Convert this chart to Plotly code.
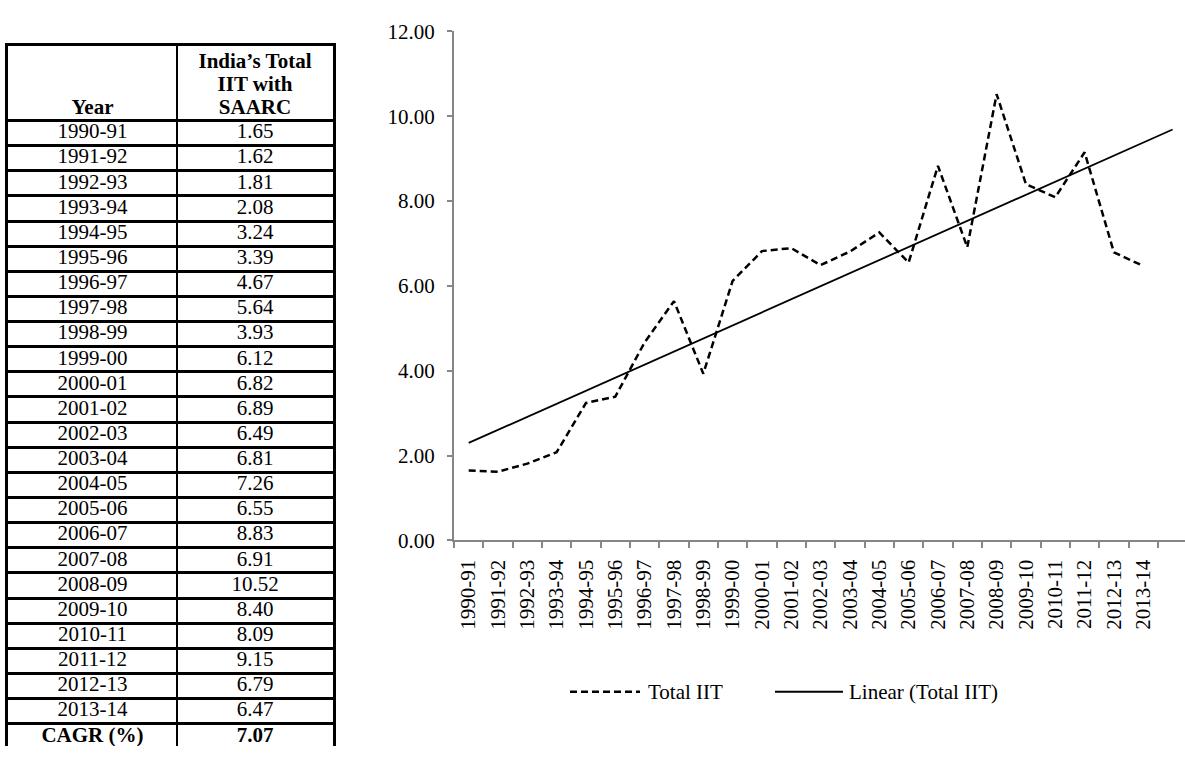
import numpy as np
import plotly.graph_objects as go

# ---- data -------------------------------------------------------------
years = ["1990-91", "1991-92", "1992-93", "1993-94", "1994-95", "1995-96",
         "1996-97", "1997-98", "1998-99", "1999-00", "2000-01", "2001-02",
         "2002-03", "2003-04", "2004-05", "2005-06", "2006-07", "2007-08",
         "2008-09", "2009-10", "2010-11", "2011-12", "2012-13", "2013-14"]
total_iit = [1.65, 1.62, 1.81, 2.08, 3.24, 3.39, 4.67, 5.64, 3.93, 6.12,
             6.82, 6.89, 6.49, 6.81, 7.26, 6.55, 8.83, 6.91, 10.52, 8.40,
             8.09, 9.15, 6.79, 6.47]
cagr_pct = 7.07
header_year = "Year"
header_value_lines = ["India’s Total", "IIT with", "SAARC"]
summary_label = "CAGR (%)"
series_name = "Total IIT"
trend_name = f"Linear ({series_name})"
y_tick_values = [0, 2, 4, 6, 8, 10, 12]

# ---- geometry / style -------------------------------------------------
W, H = 1185, 758
FONT = "Liberation Serif"
FS = 21
AXIS_GREY = "#868686"
DASH = "7px,4px"

# chart area (pixels)
PLOT_LEFT, PLOT_TOP, PLOT_BOTTOM = 454, 20, 545.7
CAT_PX = 29.33

# table area (pixels)
TAB_LEFT, TAB_RIGHT, TAB_TOP = 8, 333, 35
COL1_W = 169
HEADER_PX, ROW_PX = 77, 25.96
HEADER_LINE_PX = 24

# legend placement (pixels)
LEG_Y = 702
LEG_ITEMS = [  # (sample start, sample end, text start)
    (570, 640, 646),
    (775, 843, 847),
]

# ---- chart traces -----------------------------------------------------
x_pos = np.arange(1, len(years) + 1)
slope, intercept = np.polyfit(x_pos, total_iit, 1)
trend_x = np.array([1, len(years) + 1])          # one period forward forecast
trend_y = intercept + slope * trend_x

series_line = dict(color="black", width=2.5, dash=DASH)
trend_line = dict(color="black", width=1.8)

fig = go.Figure()
fig.add_trace(go.Scatter(
    x=x_pos, y=total_iit, mode="lines", name=series_name,
    line=series_line, showlegend=False, xaxis="x", yaxis="y"))
fig.add_trace(go.Scatter(
    x=trend_x, y=trend_y, mode="lines", name=trend_name,
    line=trend_line, showlegend=False, xaxis="x", yaxis="y"))

# ---- table traces (on their own axes) ----------------------------------
col_centers = [COL1_W / 2, COL1_W + (TAB_RIGHT - TAB_LEFT - COL1_W) / 2]
row_centers = [i + 0.5 for i in range(len(years))]
cagr_row = len(years) + 0.5

tfont = dict(family=FONT, size=FS, color="black")

fig.add_trace(go.Scatter(
    x=[col_centers[0]] * len(years), y=row_centers, text=years,
    mode="text", textposition="middle center", textfont=tfont,
    showlegend=False, hoverinfo="skip", xaxis="x2", yaxis="y2"))
fig.add_trace(go.Scatter(
    x=[col_centers[1]] * len(years), y=row_centers,
    text=[f"{v:.2f}" for v in total_iit],
    mode="text", textposition="middle center", textfont=tfont,
    showlegend=False, hoverinfo="skip", xaxis="x2", yaxis="y2"))
fig.add_trace(go.Scatter(
    x=col_centers, y=[cagr_row, cagr_row],
    text=[f"<b>{summary_label}</b>", f"<b>{cagr_pct:.2f}</b>"],
    mode="text", textposition="middle center", textfont=tfont,
    showlegend=False, hoverinfo="skip", xaxis="x2", yaxis="y2"))

# header: bottom-aligned text lines
n_lines = len(header_value_lines)
line_y = [-(12 + (n_lines - 1 - k) * HEADER_LINE_PX) / ROW_PX for k in range(n_lines)]
fig.add_trace(go.Scatter(
    x=[col_centers[0]] + [col_centers[1]] * n_lines,
    y=[line_y[-1]] + line_y,
    text=[f"<b>{header_year}</b>"] + [f"<b>{t}</b>" for t in header_value_lines],
    mode="text", textposition="middle center", textfont=tfont,
    showlegend=False, hoverinfo="skip", xaxis="x2", yaxis="y2"))

# ---- legend (drawn with long line samples) ----------------------------
for (x0, x1, tx), name, style in zip(LEG_ITEMS, [series_name, trend_name],
                                      [series_line, trend_line]):
    fig.add_shape(type="line", xref="paper", yref="paper",
                  x0=x0 / W, x1=x1 / W, y0=(H - LEG_Y) / H, y1=(H - LEG_Y) / H,
                  line=style)
    fig.add_annotation(xref="paper", yref="paper", x=tx / W, y=(H - LEG_Y) / H,
                       text=name, showarrow=False, xanchor="left",
                       yanchor="middle", font=tfont)

# ---- layout -----------------------------------------------------------
x_range = [0.5, 0.5 + (W - PLOT_LEFT) / CAT_PX]
tab_rows_visible = (H - TAB_TOP - HEADER_PX) / ROW_PX

fig.update_layout(
    width=W, height=H,
    margin=dict(l=0, r=0, t=0, b=0),
    paper_bgcolor="white", plot_bgcolor="white",
    font=dict(family=FONT, size=FS, color="black"),
    showlegend=False,
    xaxis=dict(
        domain=[PLOT_LEFT / W, 1], range=x_range, anchor="y",
        showline=True, linecolor=AXIS_GREY, linewidth=2,
        showgrid=False, zeroline=False,
        tickmode="array", tickvals=list(x_pos), ticktext=years,
        ticks="", tickangle=-90, ticklabelstandoff=9,
        tickfont=dict(family=FONT, size=FS, color="black"),
        minor=dict(tickmode="array",
                   tickvals=[v + 0.5 for v in range(len(years) + 1)],
                   ticks="outside", ticklen=6, tickwidth=2,
                   tickcolor=AXIS_GREY, showgrid=False),
    ),
    yaxis=dict(
        domain=[(H - PLOT_BOTTOM) / H, (H - PLOT_TOP) / H], range=[0, 12],
        anchor="x",
        showline=True, linecolor=AXIS_GREY, linewidth=2,
        showgrid=False, zeroline=False,
        tickmode="array", tickvals=y_tick_values, tickformat=".2f",
        ticks="outside", ticklen=5, tickwidth=2, tickcolor=AXIS_GREY,
        ticklabelstandoff=8,
        tickfont=dict(family=FONT, size=FS, color="black"),
    ),
    xaxis2=dict(
        domain=[TAB_LEFT / W, TAB_RIGHT / W], range=[0, TAB_RIGHT - TAB_LEFT],
        anchor="y2", side="top",
        showline=True, linecolor="black", linewidth=2.5,
        tickmode="array", tickvals=[COL1_W], showticklabels=False, ticks="",
        showgrid=True, gridcolor="black", gridwidth=2,
        zeroline=False, fixedrange=True,
    ),
    yaxis2=dict(
        domain=[0, (H - TAB_TOP) / H],
        range=[tab_rows_visible, -HEADER_PX / ROW_PX],
        anchor="x2",
        showline=True, mirror=True, linecolor="black", linewidth=2.5,
        tickmode="array", tickvals=list(range(len(years) + 1)),
        showticklabels=False, ticks="",
        showgrid=True, gridcolor="black", gridwidth=2.5,
        zeroline=False, fixedrange=True,
    ),
)

fig.write_html("out.html")
